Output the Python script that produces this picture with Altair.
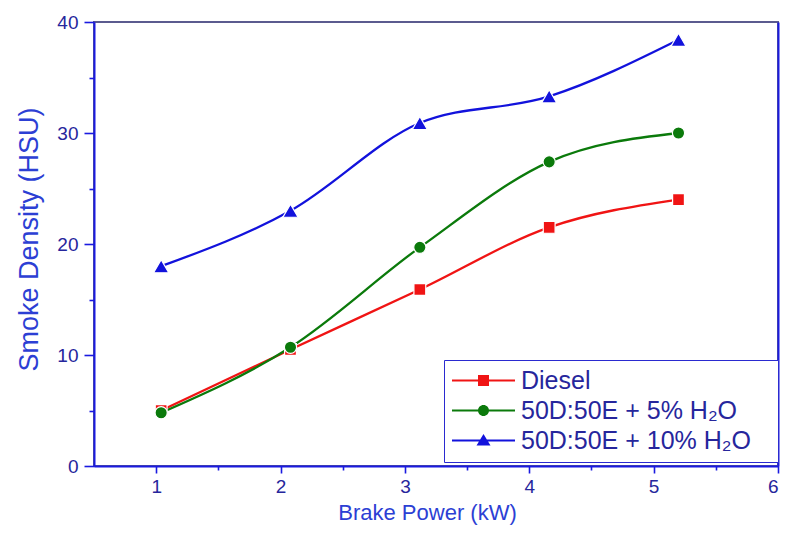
import altair as alt
import pandas as pd

# ---- data ----
power = [1.04, 2.08, 3.12, 4.16, 5.20]
diesel = [5.0, 10.5, 15.9, 21.5, 24.0]
h2o_5 = [4.8, 10.7, 19.7, 27.4, 30.0]
h2o_10 = [18.0, 23.0, 30.9, 33.3, 38.4]
series = ["Diesel", "50D:50E + 5% H₂O", "50D:50E + 10% H₂O"]
colors = ["#f01414", "#0b7a0b", "#1212dc"]
shapes = ["square", "circle", "triangle-up"]
x_ticks = [1, 2, 3, 4, 5, 6]
x_minor = [1.5, 2.5, 3.5, 4.5, 5.5]
y_ticks = [0, 10, 20, 30, 40]
y_minor = [5, 15, 25, 35]

rows = []
for name, vals in zip(series, [diesel, h2o_5, h2o_10]):
    for p, v in zip(power, vals):
        rows.append({"power": p, "smoke": v, "series": name})
df = pd.DataFrame(rows)

FONT = "Liberation Sans"
AXIS_BLUE = "#1a1ae0"
LABEL_BLUE = "#26269c"
TITLE_BLUE = "#2c3fd4"

xscale = alt.Scale(domain=[0.5, 6], nice=False, zero=False)
yscale = alt.Scale(domain=[0, 40], nice=False, zero=False)
cscale = alt.Scale(domain=series, range=colors)

base = alt.Chart(df)

x_none = alt.X("power:Q", scale=xscale, axis=None)
y_none = alt.Y("smoke:Q", scale=yscale, axis=None)

# legend symbols: line with a marker through it (custom paths, unit = 5 px)
line_part = "M-2.5,-0.2H10.1V0.2H-2.5Z"
paths = [
    line_part + " M2.7,-1.1H4.9V1.1H2.7Z M61,0Z",
    line_part + " M4.9,0A1.1,1.1 0 1,1 2.7,0A1.1,1.1 0 1,1 4.9,0Z M61,0Z",
    line_part + " M3.8,-1.3L5.2,1H2.4Z M61,0Z",
]
leg = alt.Legend(
    title=None, orient="none", legendX=350, legendY=338, padding=8,
    strokeColor="#2a2ad0", fillColor="white",
    labelFont=FONT, labelFontSize=25, labelColor=LABEL_BLUE, labelOffset=44,
    labelLimit=500, symbolSize=100, symbolStrokeWidth=0, symbolOpacity=1,
    rowPadding=4,
)
legend_layer = base.transform_filter("false").mark_point(filled=True, size=100).encode(
    x=x_none, y=y_none,
    color=alt.Color("series:N", scale=cscale, legend=leg),
    shape=alt.Shape("series:N", scale=alt.Scale(domain=series, range=paths), legend=leg),
)

x_major = alt.X("power:Q", scale=xscale, axis=alt.Axis(
    values=x_ticks, orient="bottom", title="Brake Power (kW)", grid=False,
    domainColor=AXIS_BLUE, domainWidth=2, tickColor=AXIS_BLUE, tickWidth=1.6,
    tickSize=7, labelFont=FONT, labelFontSize=19, labelColor=LABEL_BLUE,
    labelPadding=4, titleFont=FONT, titleFontSize=22, titleFontWeight="normal",
    titleColor=TITLE_BLUE, titlePadding=6, titleX=333, format="d"))
y_major = alt.Y("smoke:Q", scale=yscale, axis=alt.Axis(
    values=y_ticks, orient="left", title="Smoke Density (HSU)", grid=False,
    domainColor=AXIS_BLUE, domainWidth=2, tickColor=AXIS_BLUE, tickWidth=1.6,
    tickSize=10, labelFont=FONT, labelFontSize=19, labelColor=LABEL_BLUE,
    labelPadding=6, titleFont=FONT, titleFontSize=27, titleFontWeight="normal",
    titleColor=TITLE_BLUE, titlePadding=13, titleY=217, format="d"))

lines = base.mark_line(interpolate="monotone", strokeWidth=2.3).encode(
    x=x_major, y=y_major,
    color=alt.Color("series:N", scale=cscale, legend=None),
)

point_layers = []
for name, shp, sz in zip(series, shapes, [140, 150, 230]):
    point_layers.append(
        base.transform_filter(alt.datum.series == name)
        .mark_point(shape=shp, filled=True, size=sz, opacity=1,
                    stroke="white", strokeWidth=1.2)
        .encode(x=x_none, y=y_none,
                color=alt.Color("series:N", scale=cscale, legend=None))
    )

minor = base.mark_point(opacity=0).encode(
    x=alt.X("power:Q", scale=xscale, axis=alt.Axis(
        values=x_minor, orient="bottom", tickSize=4, tickWidth=1.6,
        tickColor=AXIS_BLUE, labels=False, domain=False, grid=False, title=None)),
    y=alt.Y("smoke:Q", scale=yscale, axis=alt.Axis(
        values=y_minor, orient="left", tickSize=5, tickWidth=1.6,
        tickColor=AXIS_BLUE, labels=False, domain=False, grid=False, title=None)),
)

right_frame = base.mark_point(opacity=0).encode(
    x=x_none,
    y=alt.Y("smoke:Q", scale=yscale, axis=alt.Axis(
        orient="right", ticks=False, labels=False, domain=True,
        domainColor=AXIS_BLUE, domainWidth=2, grid=False, title=None)),
)

chart = alt.layer(legend_layer, lines, *point_layers, minor, right_frame).resolve_axis(
    x="independent", y="independent"
).properties(
    width=684, height=444,
    autosize=alt.AutoSizeParams(type="none"),
    padding={"left": 86, "top": 14, "right": 5, "bottom": 60},
).configure_view(stroke="#5b5b8f", strokeWidth=2)

chart.save("out.html", embed_options={"renderer": "svg", "actions": False})
